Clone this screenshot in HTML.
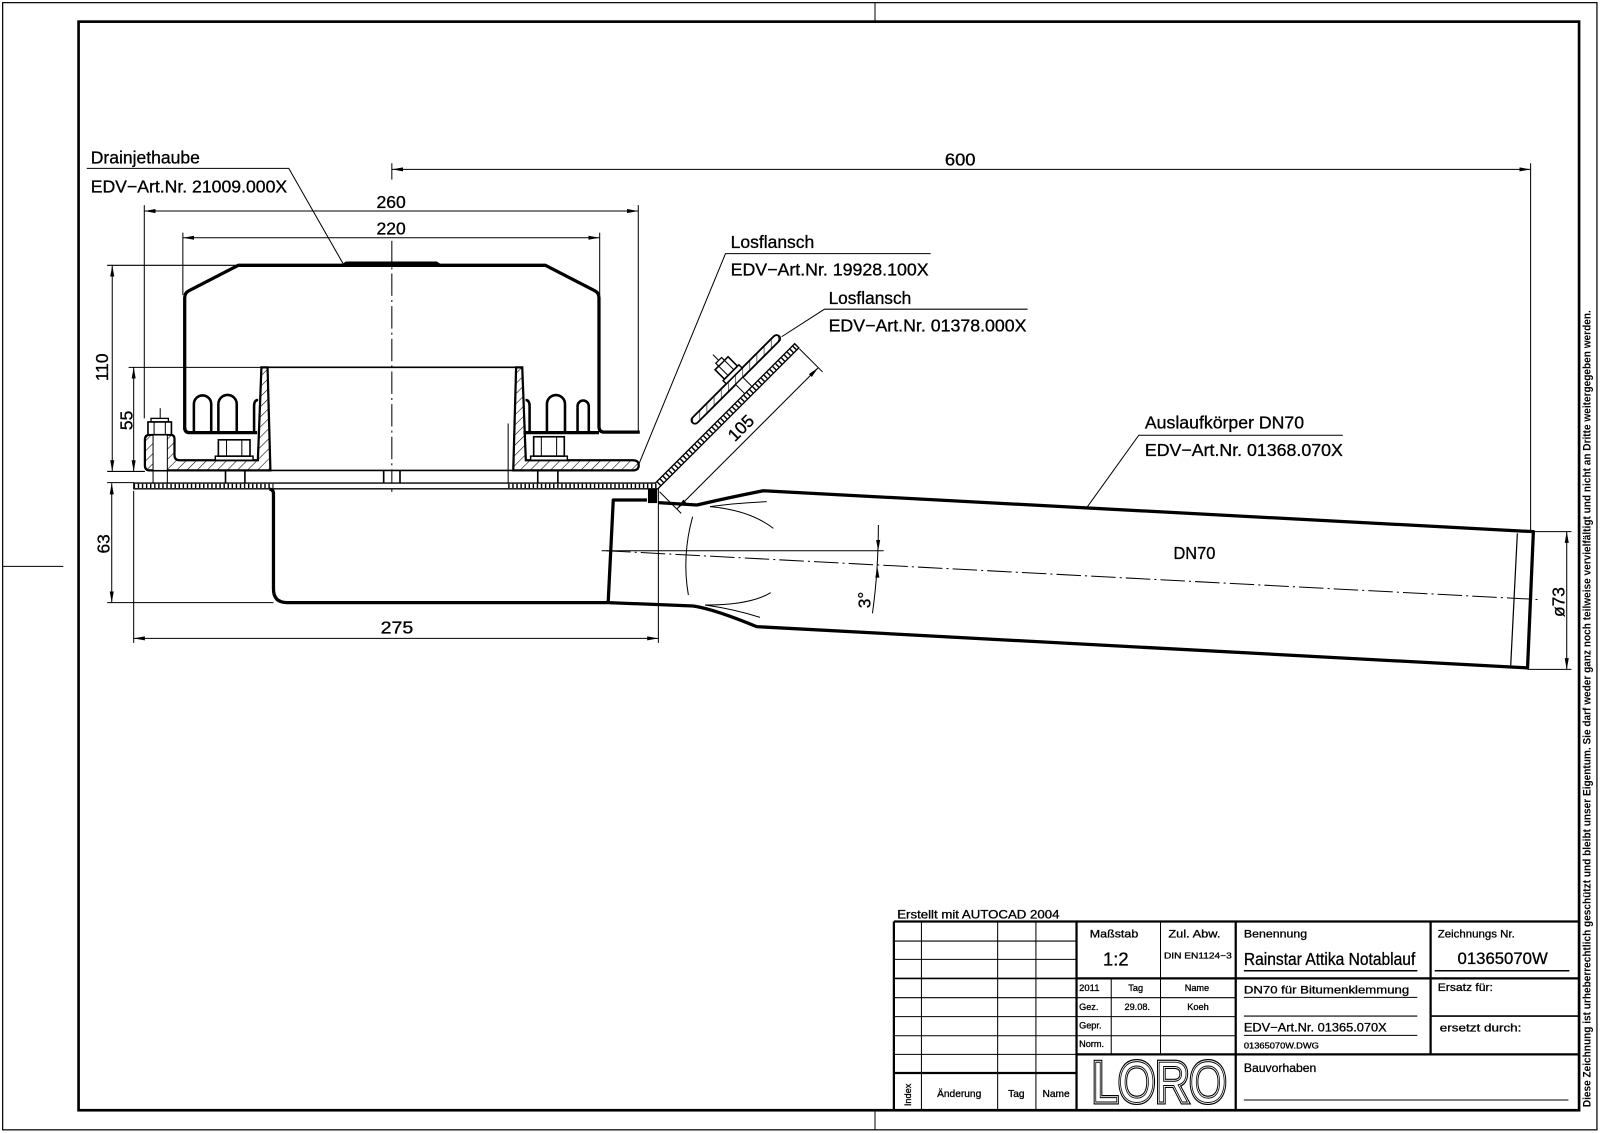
<!DOCTYPE html>
<html><head><meta charset="utf-8"><style>
html,body{margin:0;padding:0;background:#fff;}
svg{display:block;}
text{font-family:"Liberation Sans",sans-serif;fill:#000;}
.b text{stroke:#000;stroke-width:0.3;}
.t{stroke:#000;stroke-width:1;fill:none;}
.m{stroke:#000;stroke-width:1.6;fill:none;}
.k{stroke:#000;stroke-width:3.2;fill:none;stroke-linejoin:round;}
.d{stroke:#000;stroke-width:1;fill:none;marker-start:url(#ar);marker-end:url(#ar);}
</style></head><body>
<svg xmlns="http://www.w3.org/2000/svg" width="1600" height="1133" viewBox="0 0 1568 1110.3" preserveAspectRatio="none">
<defs>
<marker id="ar" viewBox="0 0 11 4" refX="11" refY="2" markerWidth="11" markerHeight="4" markerUnits="userSpaceOnUse" orient="auto-start-reverse"><path d="M0,0 L11,2 L0,4 Z" fill="#000"/></marker>
<pattern id="h" width="7" height="7" patternUnits="userSpaceOnUse" patternTransform="rotate(45)"><line x1="0" y1="0" x2="0" y2="7" stroke="#000" stroke-width="1.1"/></pattern>
</defs>
<rect x="0" y="0" width="1568" height="1110.3" fill="#fff"/>

<!-- Frame -->
<rect x="2.6" y="2.6" width="1562.4" height="1104.6" fill="none" stroke="#000" stroke-width="1.2"/>
<rect x="77" y="21.2" width="1470.5" height="1066.8" fill="none" stroke="#000" stroke-width="2.6"/>
<line x1="857.5" y1="2.6" x2="857.5" y2="21.2" class="t"/>
<line x1="857.5" y1="1088" x2="857.5" y2="1107.2" class="t"/>
<line x1="2.6" y1="555" x2="62" y2="555" class="t"/>
<text transform="translate(1558.5,1085) rotate(-90)" font-size="11" font-weight="bold" textLength="781" lengthAdjust="spacingAndGlyphs">Diese Zeichnung ist urheberrechtlich geschützt und bleibt unser Eigentum. Sie darf weder ganz noch teilweise vervielfältigt und nicht an Dritte weitergegeben werden.</text>

<!-- Labels -->
<g font-size="17" class="b">
<text x="88.9" y="160" textLength="107" lengthAdjust="spacingAndGlyphs">Drainjethaube</text>
<text x="88.9" y="188.8" textLength="192.5" lengthAdjust="spacingAndGlyphs">EDV−Art.Nr. 21009.000X</text>
<text x="716" y="243" textLength="82" lengthAdjust="spacingAndGlyphs">Losflansch</text>
<text x="716" y="270" textLength="194" lengthAdjust="spacingAndGlyphs">EDV−Art.Nr. 19928.100X</text>
<text x="812" y="298" textLength="81" lengthAdjust="spacingAndGlyphs">Losflansch</text>
<text x="812" y="325" textLength="194" lengthAdjust="spacingAndGlyphs">EDV−Art.Nr. 01378.000X</text>
<text x="1122" y="420" textLength="156" lengthAdjust="spacingAndGlyphs">Auslaufkörper DN70</text>
<text x="1122" y="447" textLength="194" lengthAdjust="spacingAndGlyphs">EDV−Art.Nr. 01368.070X</text>
<text x="926" y="162" textLength="30" lengthAdjust="spacingAndGlyphs">600</text>
<text x="369" y="204" textLength="28.7" lengthAdjust="spacingAndGlyphs">260</text>
<text x="369" y="230" textLength="28.7" lengthAdjust="spacingAndGlyphs">220</text>
<text x="373" y="621" textLength="32" lengthAdjust="spacingAndGlyphs">275</text>
<text x="1150" y="548" textLength="41" lengthAdjust="spacingAndGlyphs">DN70</text>
<text transform="translate(106,360) rotate(-90)" text-anchor="middle">110</text>
<text transform="translate(130,412) rotate(-90)" text-anchor="middle">55</text>
<text transform="translate(107.5,533) rotate(-90)" text-anchor="middle">63</text>
<text transform="translate(853,588) rotate(-90)" text-anchor="middle">3°</text>
<text transform="translate(1533,590) rotate(-90)" text-anchor="middle">ø73</text>
</g>

<!-- Leaders -->
<path class="t" d="M85,165 L283,165 L336,258"/>
<path class="t" d="M912,248.5 L711,248.5 L626,455"/>
<path class="t" d="M1007,303 L808,303 L766,330"/>
<path class="t" d="M1316,426.5 L1116,426.5 L1065,497.5"/>

<!-- Dimensions -->
<line class="d" x1="384" y1="166" x2="1500" y2="166"/>
<line class="t" x1="384" y1="160" x2="384" y2="176"/>
<line class="t" x1="1500" y1="160" x2="1500" y2="521"/>
<line class="d" x1="141.4" y1="206.8" x2="625.5" y2="206.8"/>
<line class="t" x1="141.4" y1="201" x2="141.4" y2="410"/>
<line class="t" x1="625.5" y1="201" x2="625.5" y2="423"/>
<line class="d" x1="179.2" y1="233" x2="587.7" y2="233"/>
<line class="t" x1="179.2" y1="228" x2="179.2" y2="289"/>
<line class="t" x1="587.7" y1="228" x2="587.7" y2="289"/>
<line class="d" x1="110" y1="260" x2="110" y2="462"/>
<line class="t" x1="105" y1="260" x2="232" y2="260"/>
<line class="t" x1="105" y1="462" x2="142" y2="462"/>
<line class="d" x1="131" y1="360" x2="131" y2="462"/>
<line class="t" x1="126" y1="360" x2="256" y2="360"/>
<line class="d" x1="109.5" y1="473.5" x2="109.5" y2="590.5"/>
<line class="t" x1="105" y1="473" x2="131" y2="473"/>
<line class="t" x1="105" y1="590.5" x2="268" y2="590.5"/>
<line class="d" x1="131" y1="625.6" x2="645.2" y2="625.6"/>
<line class="t" x1="131" y1="481" x2="131" y2="630"/>
<line class="t" x1="645.2" y1="479" x2="645.2" y2="630"/>
<line class="d" x1="1535.4" y1="521" x2="1535.4" y2="656"/>
<line class="t" x1="1503" y1="521" x2="1540" y2="521"/>
<line class="t" x1="1497" y1="656" x2="1540" y2="656"/>

<!-- drain centerline -->
<line class="t" x1="384" y1="236" x2="384" y2="486" stroke-dasharray="22 4 2 4"/>

<!-- Hood -->
<path class="k" d="M181,421 L181,292 Q181,287 185,285 L233.5,260 L534.5,260 L583,285 Q587,287 587,292 L587,418 Q587,423.5 592,423.5 L627,423.5"/>
<path class="k" d="M181,419 Q181,424 186,424 L252,424"/>
<path class="k" d="M513,424 L587,424"/>
<g stroke="#000" stroke-width="2.5" fill="none">
<path d="M190,424 L190,396 A8.5,8.5 0 0 1 207,396 L207,424"/>
<path d="M214,424 L214,396 A9,9 0 0 1 232,396 L232,424"/>
<path d="M249,424 L249,398 Q249,392 253,392"/>
<path d="M515,392 Q519,392 519,398 L519,424"/>
<path d="M536,424 L536,396 A8.85,8.85 0 0 1 553.7,396 L553.7,424"/>
<path d="M566,424 L566,398 A5.5,5.5 0 0 1 577,398 L577,424"/>
</g>
<path d="M333,260 L339,256.3 L428,256.3 L434,260 Z" fill="#000"/>

<!-- body -->
<line class="m" x1="256" y1="360" x2="512" y2="360"/>
<path d="M142,431 Q142,426 147,426 L167,426 Q171,426 171,430 L171,446 Q171,451 176,451 L252.7,451 L256.2,360 L262.2,360 L265,461 L147,461 Q142,461 142,456 Z" fill="url(#h)" stroke="#000" stroke-width="2.2"/>
<path d="M511.8,360 L505.8,360 L503,461 L620,461 Q626,461 626,456 Q626,451 620,451 L515.3,451 Z" fill="url(#h)" stroke="#000" stroke-width="2.2"/>
<line class="m" x1="265" y1="461" x2="503" y2="461"/>
<line class="t" x1="498" y1="415" x2="498" y2="473"/>
<!-- left bolt -->
<rect x="150" y="426" width="14" height="35" fill="#fff" stroke="#000" stroke-width="1"/>
<line class="t" x1="150" y1="461" x2="150" y2="473"/><line class="t" x1="164" y1="461" x2="164" y2="473"/>
<line class="t" x1="157" y1="400" x2="157" y2="413"/>
<rect x="148" y="410" width="17" height="3.5" fill="#fff" stroke="#000" stroke-width="1.3"/>
<rect x="145" y="413.5" width="23" height="12.5" fill="#fff" stroke="#000" stroke-width="1.6"/>
<line class="t" x1="151" y1="413.5" x2="151" y2="426"/><line class="t" x1="162" y1="413.5" x2="162" y2="426"/>
<!-- nuts -->
<rect x="211" y="447" width="37" height="4" fill="#fff" stroke="#000" stroke-width="1.4"/>
<rect x="214" y="431" width="31" height="16" fill="#fff" stroke="#000" stroke-width="1.6"/>
<line class="t" x1="222" y1="431" x2="222" y2="447"/><line class="t" x1="237" y1="431" x2="237" y2="447"/>
<line class="m" x1="221" y1="461" x2="221" y2="473"/><line class="m" x1="240" y1="461" x2="240" y2="473"/>
<rect x="520" y="447" width="36" height="4" fill="#fff" stroke="#000" stroke-width="1.4"/>
<rect x="523" y="428" width="30" height="19" fill="#fff" stroke="#000" stroke-width="1.6"/>
<line class="t" x1="530.5" y1="428" x2="530.5" y2="447"/><line class="t" x1="545.5" y1="428" x2="545.5" y2="447"/>
<line class="m" x1="527" y1="461" x2="527" y2="473"/><line class="m" x1="546.7" y1="461" x2="546.7" y2="473"/>
<line class="m" x1="376" y1="461" x2="376" y2="473"/><line class="m" x1="392" y1="461" x2="392" y2="473"/>

<!-- plate -->
<path d="M131,476.2 L643.5,476.2 L780.8,338.9" fill="none" stroke="#000" stroke-width="7" stroke-linejoin="miter"/>
<path d="M131,476.2 L643.5,476.2 L780.8,338.9" fill="none" stroke="#fff" stroke-width="4.4" stroke-linejoin="miter"/>
<path d="M131,476.2 L268,476.2" fill="none" stroke="#000" stroke-width="4.4" stroke-dasharray="1.4 2.6"/>
<path d="M498,476.2 L643.5,476.2 L780.8,338.9" fill="none" stroke="#000" stroke-width="4.4" stroke-dasharray="1.4 2.6"/>
<line class="t" x1="131" y1="472.7" x2="131" y2="479.7"/>

<!-- diagonal flange group -->
<g transform="translate(643.5,476.2) rotate(-45)">
<line x1="194.2" y1="-3.5" x2="194.2" y2="3.5" stroke="#000" stroke-width="1.4"/>
<rect x="68.7" y="-22.5" width="120" height="7" rx="3.5" fill="url(#h)" stroke="#000" stroke-width="1.8"/>
<rect x="125" y="-15.5" width="10" height="12.5" fill="#fff" stroke="#000" stroke-width="1"/>
<rect x="119" y="-27" width="22" height="4.5" fill="#fff" stroke="#000" stroke-width="1.4"/>
<rect x="121" y="-40" width="18" height="13" fill="#fff" stroke="#000" stroke-width="1.6"/>
<line class="t" x1="126" y1="-40" x2="126" y2="-27"/><line class="t" x1="134" y1="-40" x2="134" y2="-27"/>
<rect x="126" y="-44" width="8" height="4" fill="#fff" stroke="#000" stroke-width="1.2"/>
<line class="t" x1="130" y1="-52" x2="130" y2="-44"/>
<line class="d" x1="-2" y1="30" x2="194" y2="30"/>
<line class="t" x1="-2" y1="6" x2="-2" y2="36"/>
<line class="t" x1="194" y1="4" x2="194" y2="36"/>
<g class="b"><text x="98.6" y="24" text-anchor="middle" font-size="17">105</text></g>
</g>

<!-- box and pipe -->
<path class="k" d="M264,479.5 Q268,479.5 268,484 L268,577 Q268,590.5 281,590.5 L596,590.5"/>
<path class="k" d="M596,590.5 L679.5,593.9 Q700,597 741.5,614.1 L1497,654.5 L1502.7,521 L748,480.9 Q712,488 683,494.9 L645,492.6"/>
<path class="k" d="M634,490 L601,490 L596,590.5"/>
<rect x="635" y="479" width="9" height="14" fill="#000"/>
<line x1="1487" y1="522.7" x2="1480.5" y2="652" stroke="#000" stroke-width="1.2"/>
<line class="t" x1="594" y1="539.7" x2="1509" y2="587.6" stroke-dasharray="24 4 2 4"/>
<line class="t" x1="589.6" y1="539.7" x2="866" y2="539.7"/>
<path class="t" d="M695.8,496.5 Q735,500 757.9,517.8"/>
<path class="t" d="M695.8,496.5 Q720,493 751.4,491.6"/>
<path class="t" d="M678.8,506.3 Q668,545 674.6,583.1"/>
<path class="t" d="M690.9,592.9 Q735,593 755.3,580.8"/>
<path class="t" d="M690.9,592.9 Q720,597 744.8,605"/>
<path class="t" d="M860.8,514.5 Q860.8,560 855,601"/>
<path d="M860.6,539.7 L858.6,529.2 L862.6,529.2 Z" fill="#000"/>
<path d="M859.8,555.5 L857.8,566 L861.8,566 Z" fill="#000"/>

<!-- Title block -->
<g class="b"><text x="879.3" y="900" font-size="11.5" textLength="159" lengthAdjust="spacingAndGlyphs">Erstellt mit AUTOCAD 2004</text></g>
<g stroke="#000" fill="none">
<g stroke-width="1">
<line x1="903" y1="903" x2="903" y2="1088"/><line x1="977.7" y1="903" x2="977.7" y2="1088"/><line x1="1015.2" y1="903" x2="1015.2" y2="1088"/>
<line x1="876" y1="922.2" x2="1055" y2="922.2"/><line x1="876" y1="940.2" x2="1055" y2="940.2"/>
<line x1="876" y1="977.7" x2="1211" y2="977.7"/><line x1="876" y1="996.3" x2="1211" y2="996.3"/>
<line x1="876" y1="1015" x2="1211" y2="1015"/><line x1="876" y1="1033.3" x2="1055" y2="1033.3"/>
<line x1="1089" y1="958.8" x2="1089" y2="1033.3"/><line x1="1137.3" y1="903" x2="1137.3" y2="1033.3"/>
<line x1="1219" y1="977.4" x2="1389" y2="977.4"/><line x1="1219" y1="995.7" x2="1389" y2="995.7"/>
<line x1="1219" y1="1014.6" x2="1389" y2="1014.6"/><line x1="1219" y1="1078" x2="1537" y2="1078"/>
</g>
<line x1="1219" y1="951.3" x2="1389" y2="951.3" stroke-width="1.5"/>
<line x1="1406" y1="951.3" x2="1538" y2="951.3" stroke-width="1.5"/>
<line x1="1402" y1="995.7" x2="1547" y2="995.7" stroke-width="1.5"/>
<line x1="876" y1="958.8" x2="1055" y2="958.8" stroke-width="1.6"/>
<g stroke-width="2.2">
<line x1="876" y1="903" x2="1547" y2="903"/><line x1="876" y1="903" x2="876" y2="1088"/>
<line x1="1055" y1="903" x2="1055" y2="1088"/><line x1="1211" y1="903" x2="1211" y2="1088"/>
<line x1="1402" y1="903" x2="1402" y2="1033.3"/>
<line x1="1055" y1="958.8" x2="1547" y2="958.8"/><line x1="1055" y1="1033.3" x2="1547" y2="1033.3"/>
<line x1="876" y1="1051.5" x2="1055" y2="1051.5"/>
</g>
</g>
<g font-size="11" class="b">
<text x="1068" y="918.6" textLength="47.5" lengthAdjust="spacingAndGlyphs">Maßstab</text>
<text x="1145" y="918.6" textLength="51" lengthAdjust="spacingAndGlyphs">Zul. Abw.</text>
<text x="1219" y="918.6" textLength="62" lengthAdjust="spacingAndGlyphs">Benennung</text>
<text x="1409" y="918.6" textLength="75.5" lengthAdjust="spacingAndGlyphs">Zeichnungs Nr.</text>
<text x="1409" y="971.2" textLength="54" lengthAdjust="spacingAndGlyphs">Ersatz für:</text>
<text x="1411" y="1011" textLength="80" lengthAdjust="spacingAndGlyphs">ersetzt durch:</text>
<text x="1219" y="973.5" textLength="162" lengthAdjust="spacingAndGlyphs">DN70 für Bitumenklemmung</text>
<text x="1219" y="1011" font-size="12" textLength="140" lengthAdjust="spacingAndGlyphs">EDV−Art.Nr. 01365.070X</text>
<text x="1219" y="1050.3" font-size="12" textLength="71" lengthAdjust="spacingAndGlyphs">Bauvorhaben</text>
<text x="1093.5" y="946" font-size="18" text-anchor="middle">1:2</text>
<text x="1140.7" y="939.5" font-size="8.5" textLength="66.4" lengthAdjust="spacingAndGlyphs">DIN EN1124−3</text>
<text x="1219" y="945.7" font-size="17" textLength="168" lengthAdjust="spacingAndGlyphs">Rainstar Attika Notablauf</text>
<text x="1428.4" y="944.7" font-size="16.5" textLength="88.4" lengthAdjust="spacingAndGlyphs">01365070W</text>
<text x="1219" y="1027.4" font-size="8" textLength="73.5" lengthAdjust="spacingAndGlyphs">01365070W.DWG</text>
</g>
<g font-size="9" class="b">
<text x="1057.5" y="971.2" textLength="20" lengthAdjust="spacingAndGlyphs">2011</text>
<text x="1113" y="971.2" text-anchor="middle">Tag</text>
<text x="1173" y="971.2" text-anchor="middle">Name</text>
<text x="1057.5" y="989.8">Gez.</text>
<text x="1114.5" y="989.8" text-anchor="middle">29.08.</text>
<text x="1174" y="989.8" text-anchor="middle">Koeh</text>
<text x="1057.5" y="1007.8">Gepr.</text>
<text x="1057.5" y="1025.8">Norm.</text>
<text transform="translate(893,1073) rotate(-90)" text-anchor="middle">Index</text>
</g>
<g font-size="10" class="b">
<text x="940" y="1075" text-anchor="middle">Änderung</text>
<text x="996" y="1075" text-anchor="middle">Tag</text>
<text x="1035" y="1075" text-anchor="middle">Name</text>
</g>
<g font-size="56">
<text x="1070" y="1080" textLength="132" lengthAdjust="spacingAndGlyphs" fill="none" stroke="#000" stroke-width="5" style="fill:none">LORO</text>
<text x="1070" y="1080" textLength="132" lengthAdjust="spacingAndGlyphs" fill="none" stroke="#fff" stroke-width="2.6" style="fill:none">LORO</text>
<text x="1070" y="1080" textLength="132" lengthAdjust="spacingAndGlyphs" stroke="#000" stroke-width="0.9" style="fill:#fff">LORO</text>
</g>
</svg>
</body></html>
